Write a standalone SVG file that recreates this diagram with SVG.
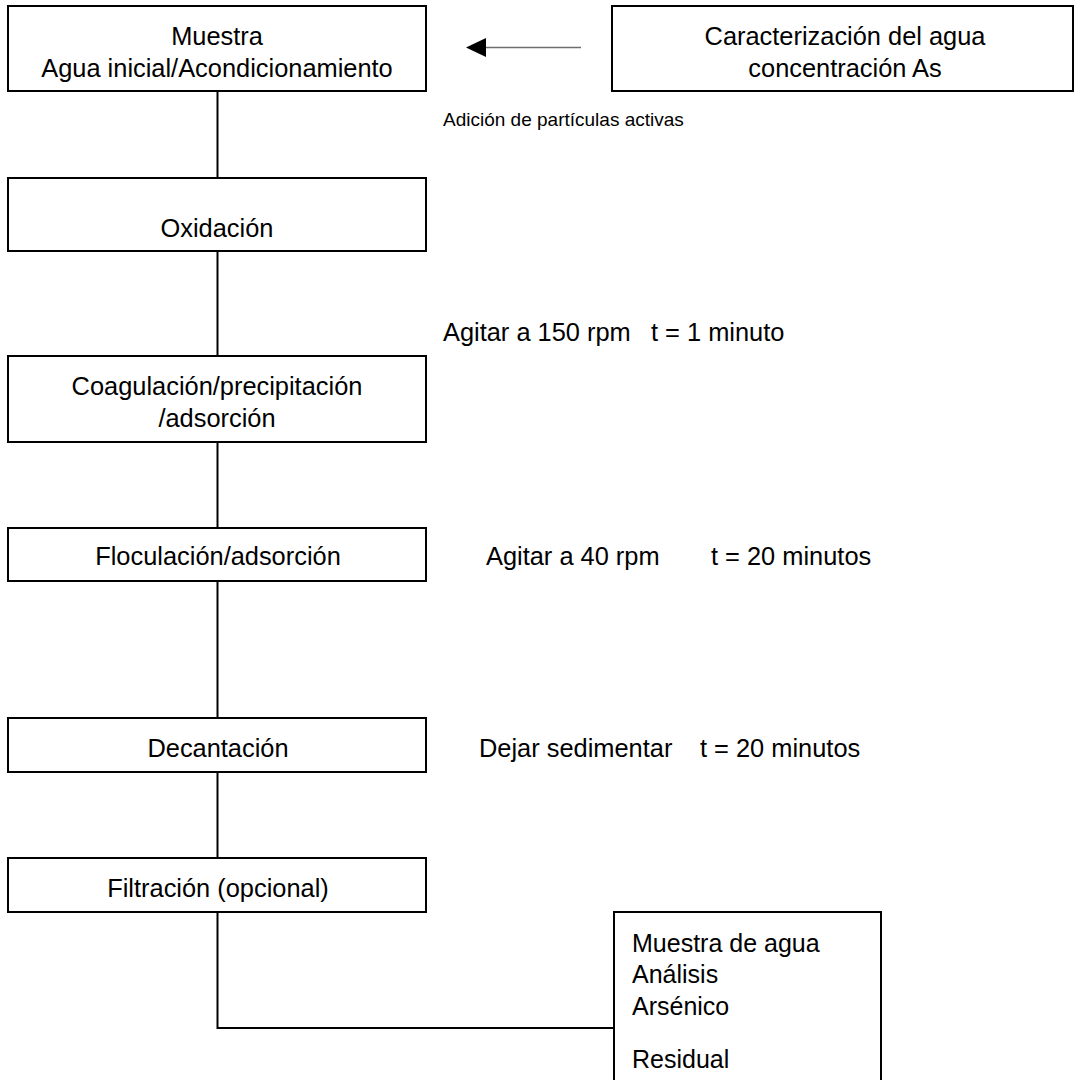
<svg xmlns="http://www.w3.org/2000/svg" width="1074" height="1080" viewBox="0 0 1074 1080">
<style>
  .box { fill: #ffffff; stroke: #000000; stroke-width: 2; }
  .t { font-family: "Liberation Sans", Arial, sans-serif; font-size: 25.4px; fill: #000000; }
  .c { text-anchor: middle; }
  .small { font-family: "Liberation Sans", Arial, sans-serif; font-size: 19px; fill: #000000; }
  .conn { fill: none; stroke: #000000; stroke-width: 2; }
</style>
<rect x="0" y="0" width="1074" height="1080" fill="#ffffff"/>

<g id="connectors">
  <line class="conn" x1="217.5" y1="91" x2="217.5" y2="178"/>
  <line class="conn" x1="217.5" y1="251" x2="217.5" y2="356"/>
  <line class="conn" x1="217.5" y1="442" x2="217.5" y2="528"/>
  <line class="conn" x1="217.5" y1="581" x2="217.5" y2="718"/>
  <line class="conn" x1="217.5" y1="772" x2="217.5" y2="858"/>
  <polyline class="conn" points="217.5,912 217.5,1028 614,1028"/>
  <g id="arrow-adicion">
    <line x1="484" y1="47.5" x2="581" y2="47.5" stroke="#6e6e6e" stroke-width="1.5"/>
    <polygon points="466,47.5 486,38 486,57" fill="#000000"/>
  </g>
</g>

<g id="node-muestra">
  <rect class="box" x="8" y="6" width="418" height="85"/>
  <text class="t c" x="217" y="45">Muestra</text>
  <text class="t c" x="217" y="77">Agua inicial/Acondicionamiento</text>
</g>

<g id="node-caracterizacion">
  <rect class="box" x="612" y="6" width="461" height="85"/>
  <text class="t c" x="845" y="45">Caracterización del agua</text>
  <text class="t c" x="845" y="77">concentración As</text>
</g>

<g id="label-adicion">
  <text class="small" x="443" y="126">Adición de partículas activas</text>
</g>

<g id="node-oxidacion">
  <rect class="box" x="8" y="178" width="418" height="73"/>
  <text class="t c" x="217" y="237">Oxidación</text>
</g>

<g id="label-agitar150">
  <text class="t" y="341"><tspan x="443">Agitar a 150 rpm</tspan><tspan x="651">t = 1 minuto</tspan></text>
</g>

<g id="node-coagulacion">
  <rect class="box" x="8" y="356" width="418" height="86"/>
  <text class="t c" x="217" y="395">Coagulación/precipitación</text>
  <text class="t c" x="217" y="427">/adsorción</text>
</g>

<g id="node-floculacion">
  <rect class="box" x="8" y="528" width="418" height="53"/>
  <text class="t c" x="218" y="565">Floculación/adsorción</text>
</g>

<g id="label-agitar40">
  <text class="t" y="565"><tspan x="486">Agitar a 40 rpm</tspan><tspan x="711">t = 20 minutos</tspan></text>
</g>

<g id="node-decantacion">
  <rect class="box" x="8" y="718" width="418" height="54"/>
  <text class="t c" x="218" y="757">Decantación</text>
</g>

<g id="label-sedimentar">
  <text class="t" y="757"><tspan x="479">Dejar sedimentar</tspan><tspan x="700">t = 20 minutos</tspan></text>
</g>

<g id="node-filtracion">
  <rect class="box" x="8" y="858" width="418" height="54"/>
  <text class="t c" x="218" y="897">Filtración (opcional)</text>
</g>

<g id="node-analisis">
  <rect class="box" x="614" y="912" width="267" height="180"/>
  <text class="t" x="632" y="952" style="font-size:25px">Muestra de agua</text>
  <text class="t" x="632" y="983" style="font-size:25px">Análisis</text>
  <text class="t" x="632" y="1015" style="font-size:25px">Arsénico</text>
  <text class="t" x="632" y="1068" style="font-size:25px">Residual</text>
</g>
</svg>
